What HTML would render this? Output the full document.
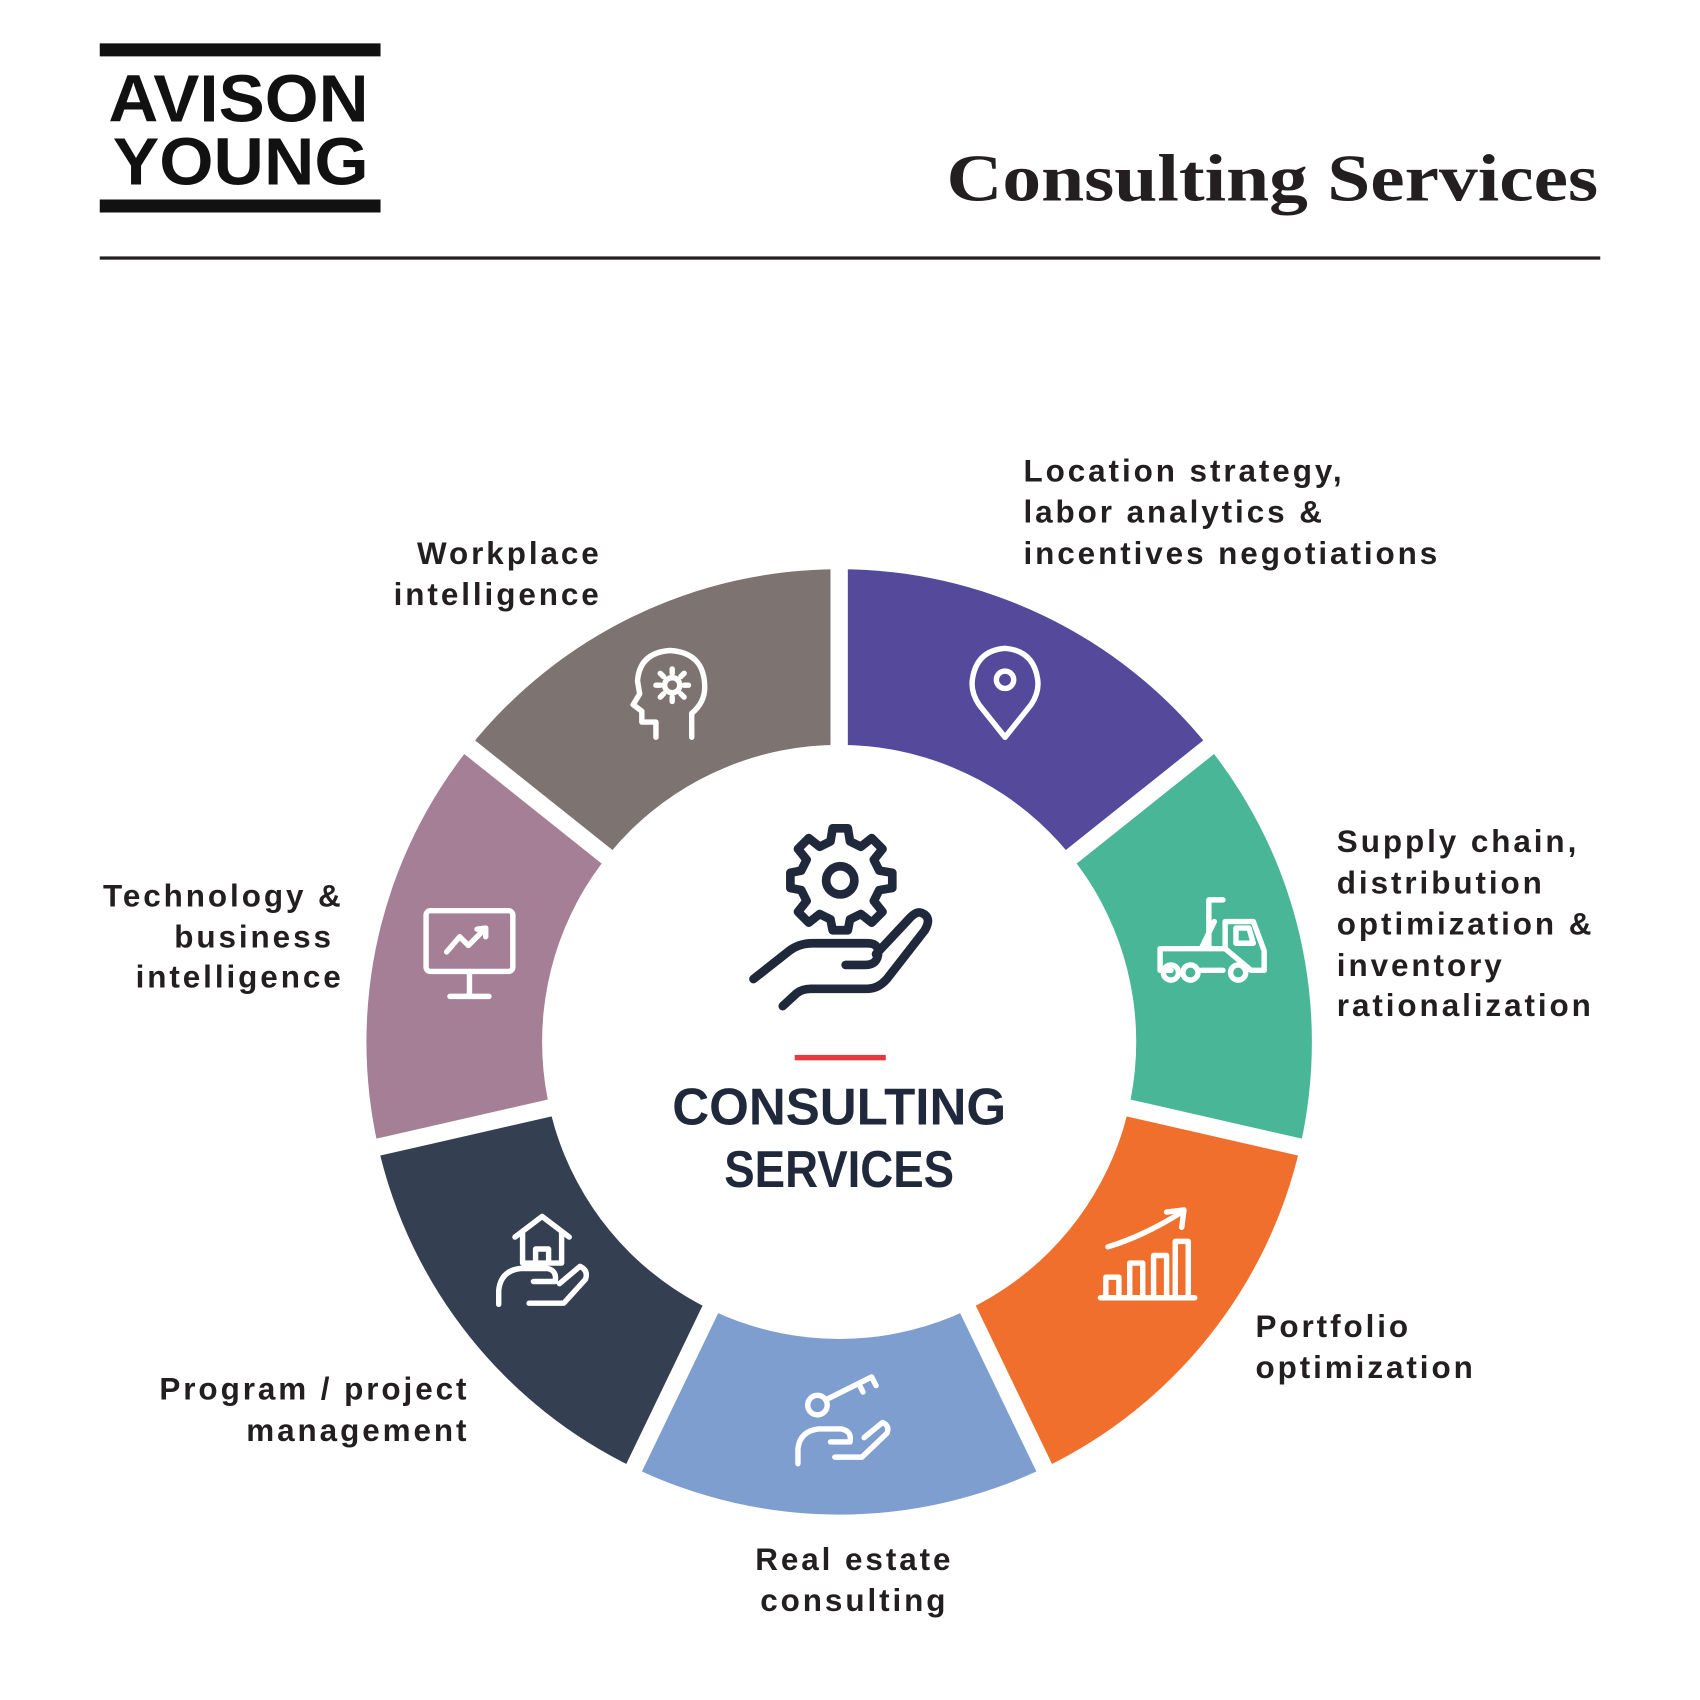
<!DOCTYPE html>
<html><head><meta charset="utf-8"><style>
html,body{margin:0;padding:0;background:#fff;}
svg{display:block}
.lb{font-family:"Liberation Sans",sans-serif;font-weight:bold;font-size:29px;letter-spacing:2.7px;fill:#231f20}
.ic{fill:none;stroke:#fff;stroke-width:5;stroke-linecap:round;stroke-linejoin:round}
.ci{fill:none;stroke:#1f293b;stroke-width:8;stroke-linecap:round;stroke-linejoin:round}
</style></head><body>
<svg width="1700" height="1700" viewBox="0 0 1568 1568" xmlns="http://www.w3.org/2000/svg">
<rect width="1568" height="1568" fill="#fff"/>
<rect x="92" y="40" width="259" height="12" fill="#111"/>
<rect x="92" y="184" width="259" height="12" fill="#111"/>
<text x="100" y="112" font-family="Liberation Sans,sans-serif" font-weight="bold" font-size="62" fill="#111" textLength="240" lengthAdjust="spacingAndGlyphs">AVISON</text>
<text x="104" y="170" font-family="Liberation Sans,sans-serif" font-weight="bold" font-size="62" fill="#111" textLength="236" lengthAdjust="spacingAndGlyphs">YOUNG</text>
<text x="873" y="185" font-family="Liberation Serif,serif" font-weight="bold" font-size="62" fill="#231f20" textLength="601" lengthAdjust="spacingAndGlyphs">Consulting Services</text>
<rect x="92" y="236.5" width="1384" height="3" fill="#231f20"/>

<path d="M774 961 L774 525 A436 436 0 0 1 1114.9 689.2Z" fill="#55499c"/>
<path d="M774 961 L1114.9 689.2 A436 436 0 0 1 1199.1 1058Z" fill="#49b697"/>
<path d="M774 961 L1199.1 1058 A436 436 0 0 1 963.2 1353.8Z" fill="#f06f2c"/>
<path d="M774 961 L963.2 1353.8 A436 436 0 0 1 584.8 1353.8Z" fill="#7f9ed0"/>
<path d="M774 961 L584.8 1353.8 A436 436 0 0 1 348.9 1058Z" fill="#343f52"/>
<path d="M774 961 L348.9 1058 A436 436 0 0 1 433.1 689.2Z" fill="#a57f96"/>
<path d="M774 961 L433.1 689.2 A436 436 0 0 1 774 525Z" fill="#7d7471"/>
<g stroke="#fff" stroke-width="16">
<line x1="774" y1="961" x2="774" y2="501"/>
<line x1="774" y1="961" x2="1133.6" y2="674.2"/>
<line x1="774" y1="961" x2="1222.5" y2="1063.4"/>
<line x1="774" y1="961" x2="973.6" y2="1375.5"/>
<line x1="774" y1="961" x2="574.4" y2="1375.5"/>
<line x1="774" y1="961" x2="325.5" y2="1063.4"/>
<line x1="774" y1="961" x2="414.4" y2="674.2"/>
</g>
<circle cx="774" cy="961" r="274" fill="#fff"/>

<g class="ci">
<path d="M768 764 L782 764 L784 776 L794 781 L804 773 L814 783 L806 793 L811 803 L823 805 L823 819 L811 821 L806 831 L814 841 L804 851 L794 843 L784 848 L782 858 L768 858 L766 848 L756 843 L746 851 L736 841 L744 831 L739 821 L729 819 L729 805 L739 803 L744 793 L736 783 L746 773 L756 781 L766 776 Z"/>
<circle cx="775" cy="812" r="13"/>
<path d="M695 903 L728 877 Q737 870 750 870 L800 870 Q810 870 810 878 Q810 890 798 890 L780 890"/>
<path d="M722 928 L735 916 Q740 912 748 912 L800 912 Q810 912 818 903 L853 858 Q860 846 850 842 Q845 840 838 848 L808 880"/>
</g>
<rect x="733" y="973" width="84" height="5" fill="#e8383d"/>
<text x="774" y="1037" text-anchor="middle" font-family="Liberation Sans,sans-serif" font-weight="bold" font-size="48" fill="#1f293b" textLength="308" lengthAdjust="spacingAndGlyphs">CONSULTING</text>
<text x="774" y="1095" text-anchor="middle" font-family="Liberation Sans,sans-serif" font-weight="bold" font-size="48" fill="#1f293b" textLength="212" lengthAdjust="spacingAndGlyphs">SERVICES</text>

<g class="ic">
<path d="M927 680 L903 650 Q895 638 897 626 Q901 600 927 598 Q953 600 957 626 Q959 638 951 650 Z"/>
<circle cx="927" cy="627" r="8"/>
<path d="M1070 875 L1070 895 L1080 895 M1108 895 L1128 895 M1154 895 L1166 895 L1166 877 L1156 850 L1130 850 L1130 875 Z M1070 875 L1130 875 M1115 875 L1115 830 L1128 830 M1120 850 L1108 875 M1140 856 L1152 856 L1156 870 L1140 870 Z"/>
<circle cx="1080" cy="897" r="7"/><circle cx="1098" cy="897" r="7"/><circle cx="1142" cy="897" r="7"/>
<path d="M1015 1197 L1102 1197 M1020 1195 L1020 1178 L1032 1178 L1032 1195 M1042 1195 L1042 1165 L1054 1165 L1054 1195 M1064 1195 L1064 1158 L1076 1158 L1076 1195 M1084 1195 L1084 1145 L1096 1145 L1096 1195 M1022 1150 Q1055 1140 1090 1118 M1076 1118 L1092 1116 L1090 1132"/>
<circle cx="754" cy="1296" r="9"/>
<path d="M762 1291 L804 1270 L808 1278 M792 1276 L796 1284 M736 1350 L736 1336 Q738 1320 755 1318 L776 1318 Q786 1320 784 1330 L766 1330 M770 1344 L795 1344 L818 1322 Q821 1315 814 1312 L797 1326"/>
<path d="M475 1141 L500 1122 L525 1141 M482 1136 L482 1165 L518 1165 L518 1136 M494 1165 L494 1152 L506 1152 L506 1165 M460 1203 L460 1190 Q462 1172 480 1170 L505 1170 Q514 1172 512 1182 L492 1182 M488 1202 L520 1202 L540 1180 Q543 1172 535 1168 L516 1184"/>
<rect x="393" y="840" width="80" height="56" rx="4"/>
<path d="M433 896 L433 917 M415 919 L451 919 M412 878 L424 864 L432 872 L448 856 M440 857 L448 856 L448 864"/>
<path d="M605 680 L605 666 L592 666 L592 656 L584 650 L590 640 L588 628 Q590 602 618 600 Q650 602 650 634 Q650 648 638 658 L638 680"/>
<circle cx="620" cy="632" r="7"/>
<path d="M620 617 L620 621 M620 643 L620 647 M605 632 L609 632 M631 632 L635 632 M609 621 L612 624 M628 640 L631 643 M631 621 L628 624 M612 640 L609 643"/>
</g>

<text class="lb" x="944" y="444">Location strategy,</text>
<text class="lb" x="944" y="482">labor analytics &amp;</text>
<text class="lb" x="944" y="520">incentives negotiations</text>
<text class="lb" x="555" y="520" text-anchor="end">Workplace</text>
<text class="lb" x="555" y="558" text-anchor="end">intelligence</text>
<text class="lb" x="317" y="836" text-anchor="end">Technology &amp;</text>
<text class="lb" x="308" y="874" text-anchor="end">business</text>
<text class="lb" x="317" y="911" text-anchor="end">intelligence</text>
<text class="lb" x="1233" y="786">Supply chain,</text>
<text class="lb" x="1233" y="824">distribution</text>
<text class="lb" x="1233" y="862">optimization &amp;</text>
<text class="lb" x="1233" y="900">inventory</text>
<text class="lb" x="1233" y="937">rationalization</text>
<text class="lb" x="1158" y="1233">Portfolio</text>
<text class="lb" x="1158" y="1271">optimization</text>
<text class="lb" x="788" y="1448" text-anchor="middle">Real estate</text>
<text class="lb" x="788" y="1486" text-anchor="middle">consulting</text>
<text class="lb" x="433" y="1291" text-anchor="end">Program / project</text>
<text class="lb" x="433" y="1329" text-anchor="end">management</text>
</svg>
</body></html>
